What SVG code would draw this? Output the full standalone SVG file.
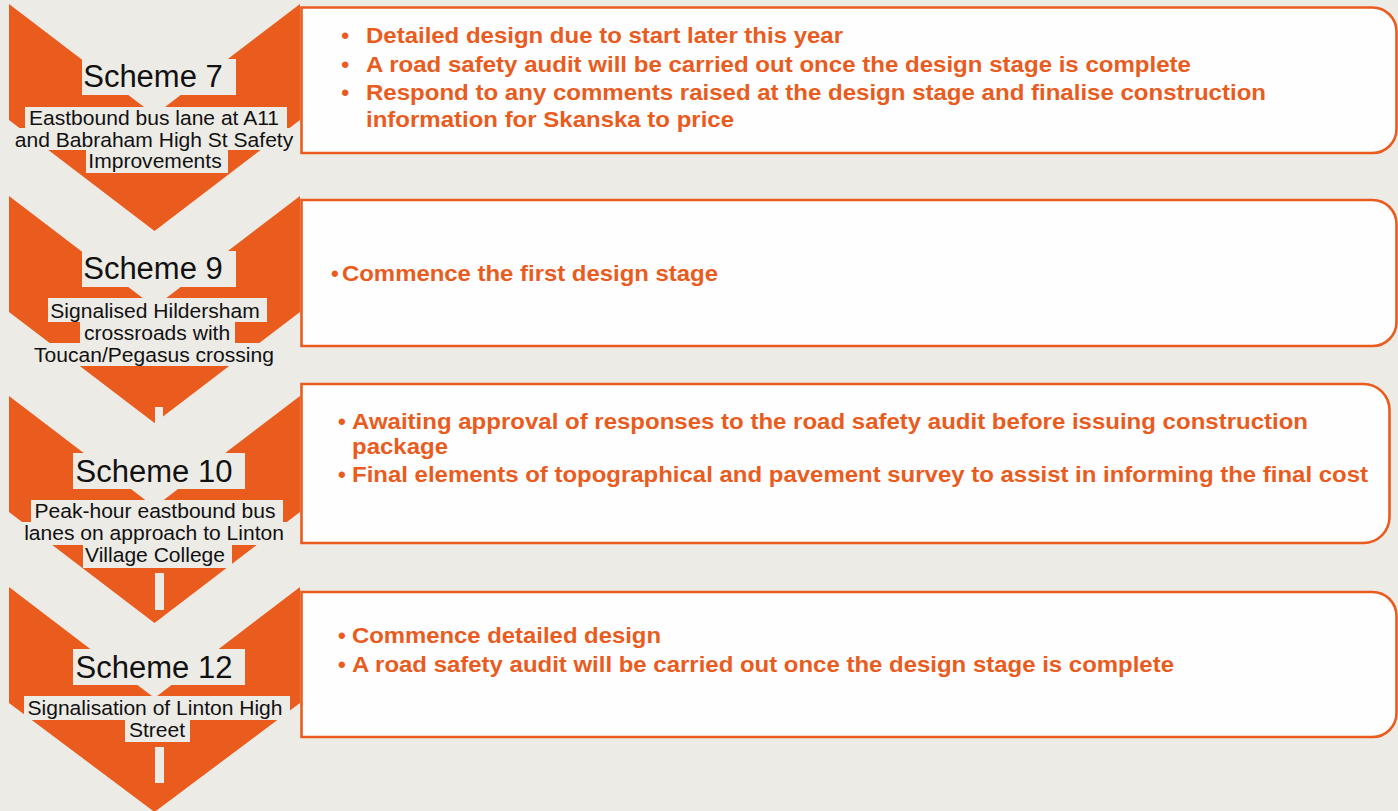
<svg xmlns="http://www.w3.org/2000/svg" width="1398" height="811" viewBox="0 0 1398 811">
<style>
.bg{fill:#EDEBE6}
.chev{fill:#E95C1E}
.hl{fill:#EDEBE6}
.title{font-family:"Liberation Sans",Arial,sans-serif;font-size:31px;fill:#111;text-anchor:middle}
.sub{font-family:"Liberation Sans",Arial,sans-serif;font-size:19.5px;fill:#111;text-anchor:middle}
.box{fill:#FEFEFE;stroke:#E95C1E;stroke-width:2.6}
.t{font-family:"Liberation Sans",Arial,sans-serif;font-size:22px;font-weight:bold;fill:#E95C1E}
.b1{font-family:"Liberation Sans",Arial,sans-serif;font-size:24px;fill:#E95C1E}
.b2{font-family:"Liberation Sans",Arial,sans-serif;font-size:22px;font-weight:bold;fill:#E95C1E}
</style>
<rect class="bg" x="0" y="0" width="1398" height="811"/>
<g id="connectors"/>

<g id="scheme7">
<polygon class="chev" points="9,4 154.5,115 300,4 300,120 154.5,231 9,120"/>
<rect class="hl" x="82" y="59" width="154" height="36"/>
<text class="title" x="153" y="87">Scheme 7</text>
<rect class="hl" x="25" y="107" width="262" height="21"/>
<rect class="hl" x="13" y="128" width="282" height="22"/>
<rect class="hl" x="86" y="150" width="142" height="23"/>
<text class="sub" transform="translate(154,125) scale(1.08,1)" x="0" y="0">Eastbound bus lane at A11</text>
<text class="sub" transform="translate(154,147) scale(1.08,1)" x="0" y="0">and Babraham High St Safety</text>
<text class="sub" transform="translate(155,168) scale(1.08,1)" x="0" y="0">Improvements</text>
</g>

<g id="scheme9">
<polygon class="chev" points="9,196 154.5,307 300,196 300,312 154.5,423 9,312"/>
<rect class="hl" x="155" y="407" width="8" height="17"/>
<rect class="hl" x="82" y="251" width="154" height="36"/>
<text class="title" x="153" y="279">Scheme 9</text>
<rect class="hl" x="48" y="298" width="219" height="24"/>
<rect class="hl" x="80" y="322" width="155" height="22"/>
<rect class="hl" x="32" y="343" width="245" height="23"/>
<text class="sub" transform="translate(155,318) scale(1.08,1)" x="0" y="0">Signalised Hildersham</text>
<text class="sub" transform="translate(157,340) scale(1.08,1)" x="0" y="0">crossroads with</text>
<text class="sub" transform="translate(154,362) scale(1.08,1)" x="0" y="0">Toucan/Pegasus crossing</text>
</g>

<g id="scheme10">
<polygon class="chev" points="9,396 154.5,507 300,396 300,512 154.5,623 9,512"/>
<rect class="hl" x="155" y="573" width="9" height="37"/>
<rect class="hl" x="73" y="453" width="172" height="36"/>
<text class="title" x="154" y="482">Scheme 10</text>
<rect class="hl" x="31" y="500" width="252" height="22"/>
<rect class="hl" x="22" y="522" width="265" height="23"/>
<rect class="hl" x="83" y="545" width="149" height="23"/>
<text class="sub" transform="translate(155,518) scale(1.08,1)" x="0" y="0">Peak-hour eastbound bus</text>
<text class="sub" transform="translate(154,540) scale(1.08,1)" x="0" y="0">lanes on approach to Linton</text>
<text class="sub" transform="translate(155,562) scale(1.08,1)" x="0" y="0">Village College</text>
</g>

<g id="scheme12">
<polygon class="chev" points="9,587 154.5,698 300,587 300,703 154.5,812 9,703"/>
<rect class="hl" x="155" y="747" width="9" height="36"/>
<rect class="hl" x="73" y="649" width="172" height="36"/>
<text class="title" x="154" y="678">Scheme 12</text>
<rect class="hl" x="24" y="696" width="266" height="24"/>
<rect class="hl" x="125" y="720" width="65" height="22"/>
<text class="sub" transform="translate(155,715) scale(1.08,1)" x="0" y="0">Signalisation of Linton High</text>
<text class="sub" transform="translate(157,737) scale(1.08,1)" x="0" y="0">Street</text>
</g>

<g id="box7">
<path class="box" d="M301.5,7.5 H1372.5 A24,24 0 0 1 1396.5,31.5 V129 A24,24 0 0 1 1372.5,153 H301.5 Z"/>
<text class="b1" x="341" y="44">•</text>
<text class="b1" x="341" y="73">•</text>
<text class="b1" x="341" y="101">•</text>
<text class="t" x="366" y="43" textLength="477" lengthAdjust="spacingAndGlyphs">Detailed design due to start later this year</text>
<text class="t" x="366" y="72" textLength="825" lengthAdjust="spacingAndGlyphs">A road safety audit will be carried out once the design stage is complete</text>
<text class="t" x="366" y="100" textLength="900" lengthAdjust="spacingAndGlyphs">Respond to any comments raised at the design stage and finalise construction</text>
<text class="t" x="366" y="127" textLength="368" lengthAdjust="spacingAndGlyphs">information for Skanska to price</text>
</g>

<g id="box9">
<path class="box" d="M301.5,200 H1372.5 A24,24 0 0 1 1396.5,224 V322 A24,24 0 0 1 1372.5,346 H301.5 Z"/>
<text class="b2" x="331" y="281">•</text>
<text class="t" x="342" y="281" textLength="376" lengthAdjust="spacingAndGlyphs">Commence the first design stage</text>
</g>

<g id="box10">
<path class="box" d="M301.5,384 H1363.5 A26,26 0 0 1 1389.5,410 V517 A26,26 0 0 1 1363.5,543 H301.5 Z"/>
<text class="b2" x="338" y="429">•</text>
<text class="b2" x="338" y="482">•</text>
<text class="t" x="352" y="429" textLength="956" lengthAdjust="spacingAndGlyphs">Awaiting approval of responses to the road safety audit before issuing construction</text>
<text class="t" x="352" y="454" textLength="96" lengthAdjust="spacingAndGlyphs">package</text>
<text class="t" x="352" y="482" textLength="1016" lengthAdjust="spacingAndGlyphs">Final elements of topographical and pavement survey to assist in informing the final cost</text>
</g>

<g id="box12">
<path class="box" d="M301.5,592 H1372.5 A24,24 0 0 1 1396.5,616 V713 A24,24 0 0 1 1372.5,737 H301.5 Z"/>
<text class="b2" x="338" y="643">•</text>
<text class="b2" x="338" y="672">•</text>
<text class="t" x="352" y="643" textLength="309" lengthAdjust="spacingAndGlyphs">Commence detailed design</text>
<text class="t" x="352" y="672" textLength="822" lengthAdjust="spacingAndGlyphs">A road safety audit will be carried out once the design stage is complete</text>
</g>
</svg>
